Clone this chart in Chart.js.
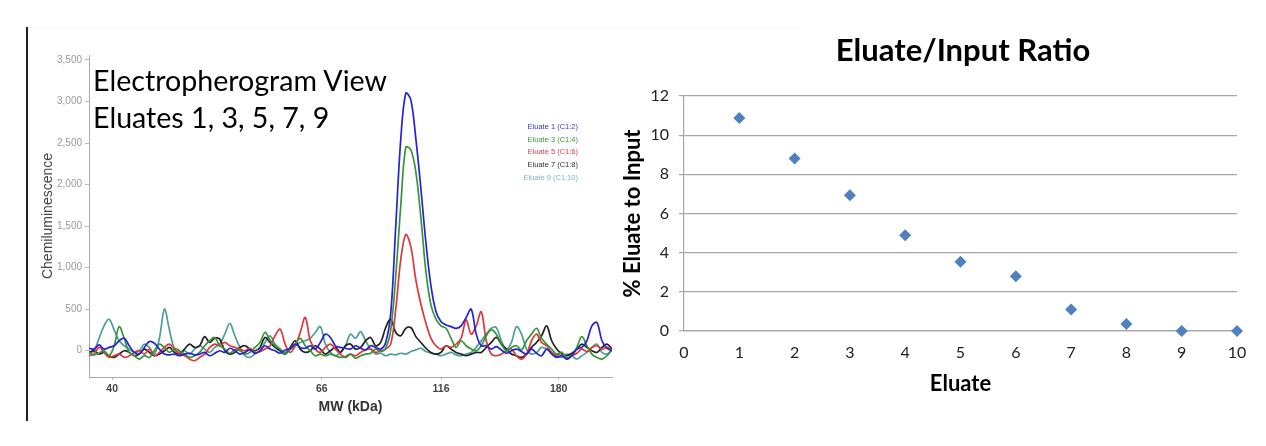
<!DOCTYPE html>
<html>
<head>
<meta charset="utf-8">
<script src="https://cdn.jsdelivr.net/npm/chart.js@4.4.1/dist/chart.umd.min.js"></script>
<style>
  body { margin: 0; width: 1266px; height: 446px; background: #fff; position: relative; overflow: hidden; font-family: Lato, sans-serif; }
  .abs { position: absolute; }
  #leftWrap { left: 0; top: 0; width: 630px; height: 446px; }
  #rightWrap { left: 600px; top: 0; width: 666px; height: 446px; }
  #frame { left: 26px; top: 27px; width: 2px; height: 394px; background: #222; }
  #dash { left: 33px; top: 27px; width: 767px; border-top: 1px dashed #f0f0f0; }
  #leftTitle { left: 93px; top: 62px; font-size: 28.6px; line-height: 36.6px; color: #000; white-space: nowrap; }
  #rightTitle { left: 763px; top: 31px; width: 400px; text-align: center; font-weight: bold; font-size: 31px; line-height: 1.2; color: #000; }
</style>
</head>
<body>
<div id="frame" class="abs"></div>
<div id="dash" class="abs"></div>
<div id="leftWrap" class="abs"><canvas id="epg" width="630" height="446"></canvas></div>
<div id="rightWrap" class="abs"><canvas id="ratio" width="666" height="446"></canvas></div>
<div id="leftTitle" class="abs">Electropherogram View<br>Eluates 1, 3, 5, 7, 9</div>
<div id="rightTitle" class="abs">Eluate/Input Ratio</div>

<script>
// ---- electropherogram data (migration position 0..104, signal in chemiluminescence units)
const mwLabels = ["40", "66", "116", "180"];
const mwPos = [4.6, 46.3, 70, 93.4];
const signalTicks = [0, 500, 1000, 1500, 2000, 2500, 3000, 3500];

const eluateNames = ["Eluate 1 (C1:2)", "Eluate 3 (C1:4)", "Eluate 5 (C1:6)", "Eluate 7 (C1:8)", "Eluate 9 (C1:10)"];

const eluate1 = [
  30, 20, 70, 20, 40, 60, 120, 150, 60, -20,
  -40, 40, 110, 90, 20, -40, -50, -40, -60, -40,
  -30, -50, -40, -20, -60, -30, 0, -20, 30, 0,
  -40, -20, 10, -30, 0, 60, 20, 0, -30, 10,
  20, 80, 40, 30, 60, 20, 100, 200, 160, 60,
  40, 30, 20, 60, 30, 10, 60, 40, 20, 100,
  450, 1500, 2550, 3100, 3020, 2550, 1950, 1300, 780, 470,
  350, 310, 290, 270, 300, 400, 500, 200, 60, 60,
  20, 50, 10, -30, 0, 20, -10, -40, 20, -30,
  -60, 20, -40, -80, -60, -100, -60, 20, 40, 120,
  300, 340, 120, 30, 0
];
const eluate3 = [
  -20, -50, -30, 0, -60, 60, 290, 150, -20, -60,
  -100, -60, -80, 0, 80, 40, -20, 30, 0, -40,
  -80, -60, -20, 60, 120, 160, 60, 20, -30, 10,
  0, -40, -20, 40, 100, 220, 130, 60, 20, -40,
  20, 80, 150, 60, 0, -60, -40, -60, -40, -60,
  -80, -70, -40, -90, -60, -40, -30, 20, -10, 30,
  250, 900, 1750, 2450, 2420, 2150, 1600, 950, 550, 380,
  300, 270, 150, 40, 120, 60, 20, 0, 60, 180,
  250, 200, 80, 0, 40, 60, 10, 120, 200, 270,
  150, 80, 20, -40, -20, -80, -60, 40, 170, 60,
  -40, -80, -100, -60, 20
];
const eluate5 = [
  -60, -40, 40, -20, -80, -60, -40, -80, -60, -20,
  0, -40, 20, -60, -20, 40, 80, 20, -40, -60,
  -100, -120, -80, -40, 40, 80, 60, 100, 60, 40,
  20, 0, 30, -20, -10, 20, 60, 180, 260, 80,
  -20, 60, 220, 400, 120, 20, -20, 40, 80, 20,
  -40, -80, -40, -60, -20, 10, 20, -20, 0, 20,
  80, 500, 1100, 1400, 1250, 850, 560, 330, 150, 60,
  20, 60, 40, 80, 150, 370, 200, 300, 470, 120,
  -40, -60, -40, 0, 20, -60, -100, -40, 120, 200,
  100, 60, -20, -60, -20, -100, -60, -30, 20, -10,
  40, 60, 20, 40, 10
];
const eluate7 = [
  -20, 0, -40, -20, -60, -80, -40, 0, -20, -60,
  -40, 20, -20, -60, -40, 0, 40, -20, -40, 20,
  80, 40, 60, 170, 100, 150, 140, 0, -40, -20,
  40, 60, 20, 0, 40, 160, 100, 40, 0, -40,
  40, 120, 20, -20, 0, 60, 20, -40, 0, 40,
  -20, 60, 80, 20, 40, 120, 160, 60, 100, 280,
  380, 220, 180, 270, 280, 170, 100, 30, -20, -40,
  -20, 60, 20, -20, -40, -60, -40, -20, -20, 40,
  100, 160, 80, 20, -40, -60, -80, -40, 40, 100,
  180, 300, 120, 20, -40, -60, -30, 20, 80, 40,
  0, -20, 40, 80, 20
];
const eluate9 = [
  -40, 0, 150, 300, 380, 250, 120, 60, 20, -20,
  0, 80, 40, -40, 150, 500, 250, 20, -20, 0,
  -40, 20, 60, 20, -20, 40, 80, 200, 330, 180,
  40, -60, -80, -40, 0, 100, 180, 80, 20, -20,
  20, 60, 100, 120, 150, 220, 290, 80, -20, -60,
  -20, 60, 200, 150, 230, 120, 20, -40, -30, -60,
  -40, -50, -30, -40, -10, 10, 30, -10, -30, -40,
  -60, -40, -20, -50, -60, -40, -20, 40, 120, 200,
  270, 280, 120, 20, 100, 290, 200, 20, -40, -20,
  40, 20, -20, -60, -80, -40, -60, -100, -60, -20,
  40, 80, -20, -40, 10
];

// ---- eluate / input ratio data
const eluateNumbers = [1, 2, 3, 4, 5, 6, 7, 8, 9, 10];
const pctToInput = [10.88, 8.81, 6.93, 4.89, 3.53, 2.8, 1.1, 0.36, 0, 0];

const lineColors = ["#2424d2", "#38943a", "#e0363a", "#222222", "#4b9f98"];
const legendTextColors = ["#3838cc", "#3d973d", "#e2404c", "#333333", "#7fb6bc"];
const traces = [eluate1, eluate3, eluate5, eluate7, eluate9];

const toPoints = (arr) => arr.map((v, i) => ({ x: i, y: v }));

const eluateLegend = {
  id: "eluateLegend",
  afterDraw(chart) {
    const ctx = chart.ctx;
    ctx.save();
    ctx.font = '7.5px "Liberation Sans", Arial, sans-serif';
    ctx.textAlign = "right";
    ctx.textBaseline = "middle";
    chart.data.datasets.forEach((ds, k) => {
      ctx.fillStyle = legendTextColors[k];
      ctx.fillText(ds.label, 578, 127 + 12.7 * k);
    });
    ctx.restore();
  }
};

new Chart(document.getElementById("epg"), {
  type: "line",
  data: {
    datasets: traces.map((t, k) => ({
      label: eluateNames[k],
      data: toPoints(t),
      borderColor: lineColors[k],
      borderWidth: 1.7,
      pointRadius: 0,
      tension: 0.35,
      fill: false
    }))
  },
  options: {
    responsive: false,
    animation: false,
    layout: { padding: { left: 36, top: 55, right: 18, bottom: 26 } },
    plugins: { legend: { display: false }, tooltip: { enabled: false } },
    scales: {
      x: {
        type: "linear",
        min: 0,
        max: 104,
        afterBuildTicks: (axis) => { axis.ticks = mwPos.map((v) => ({ value: v })); },
        afterFit: (s) => { s.height = 43; },
        ticks: {
          autoSkip: false,
          maxRotation: 0,
          padding: 3,
          color: "#444",
          font: { family: '"Liberation Sans", Arial, sans-serif', size: 10.5, weight: "bold" },
          callback: (v, i) => mwLabels[i]
        },
        grid: { drawOnChartArea: false, tickLength: 3, color: "#bbb" },
        border: { color: "#aaa" },
        title: {
          display: true,
          text: "MW (kDa)",
          color: "#333",
          font: { family: '"Liberation Sans", Arial, sans-serif', size: 14, weight: "bold" },
          padding: { top: 2, bottom: 4 }
        }
      },
      y: {
        min: -316,
        max: 3560,
        afterBuildTicks: (axis) => { axis.ticks = signalTicks.map((v) => ({ value: v })); },
        afterFit: (s) => { s.width = 53; },
        ticks: {
          padding: 3,
          color: "#999",
          font: { family: '"Liberation Sans", Arial, sans-serif', size: 10 }
        },
        grid: { drawOnChartArea: false, tickLength: 4, color: "#bbb" },
        border: { color: "#aaa" },
        title: {
          display: true,
          text: "Chemiluminescence",
          color: "#444",
          font: { family: '"Liberation Sans", Arial, sans-serif', size: 14 },
          padding: { top: 4, bottom: 4 }
        }
      }
    }
  },
  plugins: [eluateLegend]
});

new Chart(document.getElementById("ratio"), {
  type: "scatter",
  data: {
    datasets: [{
      label: "% Eluate to Input",
      data: eluateNumbers.map((e, i) => ({ x: e, y: pctToInput[i] })),
      pointStyle: "rectRot",
      pointRadius: 6,
      backgroundColor: "#4f81bd",
      borderColor: "#4f81bd",
      borderWidth: 0,
      clip: false
    }]
  },
  options: {
    responsive: false,
    animation: false,
    layout: { padding: { left: 16, top: 96, right: 29, bottom: 45 } },
    plugins: { legend: { display: false }, tooltip: { enabled: false } },
    scales: {
      x: {
        type: "linear",
        min: 0,
        max: 10,
        afterFit: (s) => { s.height = 70; },
        ticks: {
          stepSize: 1,
          padding: 12,
          color: "#222",
          font: { family: "Lato, sans-serif", size: 16 }
        },
        grid: { display: false, drawTicks: false },
        border: { color: "#a6a6a6", width: 1.2 },
        title: {
          display: true,
          text: "Eluate",
          color: "#000",
          font: { family: "Lato, sans-serif", size: 22, weight: "bold" },
          padding: { top: 4, bottom: 4 }
        }
      },
      y: {
        min: 0,
        max: 12,
        afterFit: (s) => { s.width = 68; },
        ticks: {
          stepSize: 2,
          padding: 10,
          color: "#222",
          font: { family: "Lato, sans-serif", size: 16 }
        },
        grid: { color: "#a6a6a6", lineWidth: 1.2, tickLength: 5 },
        border: { color: "#a6a6a6", width: 1.2 },
        title: {
          display: true,
          text: "% Eluate to Input",
          color: "#000",
          font: { family: "Lato, sans-serif", size: 22, weight: "bold" },
          padding: { top: 4, bottom: 4 }
        }
      }
    }
  }
});
</script>
</body>
</html>
